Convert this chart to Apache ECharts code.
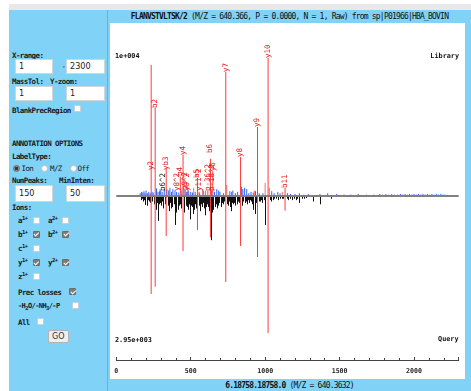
<!DOCTYPE html>
<html><head><meta charset="utf-8">
<script src="https://cdn.jsdelivr.net/npm/echarts@6/dist/echarts.min.js"></script>
<style>
html,body{margin:0;padding:0;width:471px;height:391px;overflow:hidden;background:#fff;}
#topband{position:absolute;left:9px;top:4px;width:462px;height:6px;background:#e8e8e8;}
#blue{position:absolute;left:9px;top:10px;width:462px;height:381px;background:#80d2f7;}
#sep{position:absolute;left:107px;top:10px;width:1px;height:381px;background:#5db6df;}
#chart{position:absolute;left:110px;top:23px;width:355px;height:356px;background:#fff;}
.t{position:absolute;font-family:'DejaVu Sans Mono',monospace;font-weight:bold;font-size:7.5px;letter-spacing:-0.6px;line-height:9px;height:9px;color:#1a1a1a;white-space:nowrap;}
.t sup,.t sub{font-size:5.5px;line-height:0;}
.t sup{vertical-align:3px;} .t sub{vertical-align:-1.5px;}
.in{position:absolute;background:#fff;border:1px solid #cfd6da;box-sizing:border-box;height:15px;font-family:'Liberation Sans Narrow','DejaVu Sans Condensed','Liberation Sans',sans-serif;font-size:9px;line-height:13px;padding-left:3px;color:#222;}
.cb{position:absolute;width:7px;height:7px;background:#fff;border:1px solid #c9cfd2;box-sizing:border-box;border-radius:1px;}
.cb.on{background:#7c7c7c;border-color:#6c6c6c;}
.cb.on::after{content:'';position:absolute;left:1.6px;top:-0.2px;width:1.6px;height:3.6px;border:solid #fff;border-width:0 1px 1px 0;transform:rotate(45deg);}
.rd{position:absolute;width:7px;height:7px;border-radius:50%;background:#fff;border:1px solid #b9c2c7;box-sizing:border-box;}
.rd.on{background:radial-gradient(circle,#3a3a3a 0 45%,#8a8a8a 55% 100%);border-color:#6a6a6a;}
#title{position:absolute;left:108px;top:10px;width:363px;height:13px;line-height:13px;text-align:center;font-family:'DejaVu Sans Mono',monospace;font-size:8px;letter-spacing:-0.8px;color:#111;white-space:nowrap;}
#foot{position:absolute;left:108px;top:380px;width:363px;height:12px;line-height:12px;text-align:center;font-family:'DejaVu Sans Mono',monospace;font-size:8px;letter-spacing:-0.8px;color:#111;white-space:nowrap;}
#go{position:absolute;left:48px;top:329.5px;width:20.5px;height:13.5px;background:#efefef;border:1px solid #b3b3b3;box-sizing:border-box;border-radius:2px;font-family:'DejaVu Sans',sans-serif;font-size:8px;line-height:11.5px;text-align:center;color:#333;}
</style></head>
<body>
<div id="topband"></div>
<div id="blue"></div>
<div id="sep"></div>
<div id="title"><b>FLANVSTVLTSK/2</b> (M/Z = 640.366, P = 0.0000, N = 1, Raw) from sp|P01966|HBA_BOVIN</div>
<div id="foot"><b>6.18758.18758.0</b> (M/Z = 640.3632)</div>

<div class="t" style="left:12px;top:50.5px">X-range:</div>
<div class="in" style="left:15px;top:59px;width:38px">1</div>
<div class="t" style="left:61.5px;top:61.5px;font-weight:normal">-</div>
<div class="in" style="left:66px;top:59px;width:39px">2300</div>
<div class="t" style="left:12px;top:77.2px">MassTol:</div>
<div class="t" style="left:50px;top:77.2px">Y-zoom:</div>
<div class="in" style="left:15px;top:86px;width:38px">1</div>
<div class="in" style="left:66px;top:86px;width:39px">1</div>
<div class="t" style="left:12px;top:106.2px">BlankPrecRegion</div>
<div class="cb" style="left:73.5px;top:105px"></div>
<div class="t" style="left:12px;top:139.2px">ANNOTATION OPTIONS</div>
<div class="t" style="left:12px;top:152.2px">LabelType:</div>
<div class="rd on" style="left:12.5px;top:165px"></div>
<div class="t" style="left:21.5px;top:164px;font-weight:normal">Ion</div>
<div class="rd" style="left:41px;top:165px"></div>
<div class="t" style="left:50px;top:164px;font-weight:normal">M/Z</div>
<div class="rd" style="left:69.5px;top:165px"></div>
<div class="t" style="left:77.5px;top:164px;font-weight:normal">Off</div>
<div class="t" style="left:12px;top:175.5px">NumPeaks:</div>
<div class="t" style="left:59px;top:175.5px">MinInten:</div>
<div class="in" style="left:15px;top:185px;width:38px;height:16.5px;line-height:14.5px">150</div>
<div class="in" style="left:66px;top:185px;width:39px;height:16.5px;line-height:14.5px">50</div>
<div class="t" style="left:12px;top:202.8px">Ions:</div>

<div class="t" style="left:18px;top:215.5px">a<sup>1+</sup></div>
<div class="cb" style="left:32.5px;top:216.5px"></div>
<div class="t" style="left:48px;top:215.5px">a<sup>2+</sup></div>
<div class="cb" style="left:62px;top:216.5px"></div>

<div class="t" style="left:18px;top:229.5px">b<sup>1+</sup></div>
<div class="cb on" style="left:32.5px;top:230.5px"></div>
<div class="t" style="left:48px;top:229.5px">b<sup>2+</sup></div>
<div class="cb on" style="left:62px;top:230.5px"></div>

<div class="t" style="left:18px;top:243.8px">c<sup>1+</sup></div>
<div class="cb" style="left:32.5px;top:244.8px"></div>

<div class="t" style="left:18px;top:257.8px">y<sup>1+</sup></div>
<div class="cb on" style="left:32.5px;top:258.8px"></div>
<div class="t" style="left:48px;top:257.8px">y<sup>2+</sup></div>
<div class="cb on" style="left:62px;top:258.8px"></div>

<div class="t" style="left:18px;top:272.2px">z<sup>1+</sup></div>
<div class="cb" style="left:32.5px;top:273.2px"></div>

<div class="t" style="left:18px;top:287.5px">Prec losses</div>
<div class="cb on" style="left:69px;top:288px"></div>
<div class="t" style="left:18px;top:301.5px;font-size:7px">-H<sub>2</sub>O/-NH<sub>3</sub>/-P</div>
<div class="cb" style="left:72px;top:302px"></div>
<div class="t" style="left:18px;top:318px">All</div>
<div class="cb" style="left:36.5px;top:317.5px"></div>
<div id="go">GO</div>

<div id="chart"></div>
<script>
// ---- axis ----
const xMin = 0, xMax = 2300, xTickStep = 500;
const libScaleLabel = '1e+004';
const queryScaleLabel = '2.95e+003';

// ---- library (top) : annotated peaks (red), relative intensity % of 1e+004 ----
const libAnnMz  = [234.14, 261.16, 335.19, 430, 448.28, 463, 477, 545.31, 556, 615, 632.34, 640, 648.4, 735.42, 834.50, 948.54, 1019.58, 1133.62];
const libAnnInt = [95,     64,     20,     14,  30,     4,   3,   13,     3,   4,   27,     4,   18,    90,     28.3,   50,     100,     5.8];

// ---- library : other matched (pale red, unlabeled) ----
const libMatchMz  = [480, 520, 580, 600, 742, 760, 927, 1000, 1028, 1115];
const libMatchInt = [8,   6,   5,   4,   8,   3,   4,   9.4,  6,    3];

// ---- library : unannotated peaks (blue) ----
const libOtherMz  = [160,170,178,186,193,200,210,218,228,240,248,270,280,290,298,308,322,340,352,360,371,380,394,405,420,440,455,470,486,500,512,530,560,584,598,660,675,688,696,720,763,775,783,800,815,842,850,862,876,890,905,920,935,960,985,1044,1060,1085,1100,1150,1170,1200,1230,1260,1290,1368,1420,1480,1530,1575,1625,1680,1730,1770,1790,1810,1830,1850,1870,1890,1910,1925,1940,1955,1970,1985,2000,2015,2030,2045,2060,2075,2090,2105,2120,2135,2150,2165,2180,2195,2208];
const libOtherInt = [2,3,2.5,3.5,2,4,2,3,2,3,2.5,5.5,3,3.5,4,3,5,5,4,6,3,5,4,3,2.5,4,5,3,4,3,2.5,3,2,4,3,3,5,4,3,2,3.5,3,4,2,3,6.7,5,6,5,2,3,2.5,3.5,2,2,3.5,2,3,2,2,1.5,1.5,2,1,1.5,1.5,2,1.5,1,1,1.5,1,1,1.5,1,1.5,1,1.5,1,1,1.5,1,1.5,1,1.5,1,1.5,1,1.5,1,1.5,1,1.5,1,1.5,1,1.5,1,1.5,1,1];

// ---- query (bottom) : matched peaks (red), relative intensity % of 2.95e+003 ----
const qAnnMz  = [234.14, 261.16, 335.19, 448.28, 545.31, 632.34, 735.42, 834.50, 948.54, 1019.58, 1133.62];
const qAnnInt = [71,     65.7,   29,     39.9,   24.6,   30,     62.3,   36.2,   44.2,   99.3,    10.6];

// ---- query : other peaks (black) ----
const qOtherMz  = [165,172,180,188,196,204,212,220,229,243,250,265,272,278,286,294,300,305,311,316,324,330,345,352,361,368,376,385,394,402,412,420,428,436,457,465,473,481,488,495,502,510,517,524,532,538,556,562,569,576,583,590,596,603,608,614,620,627,636,644,652,660,668,676,685,693,700,708,716,722,742,750,757,764,771,778,786,793,800,808,814,820,827,843,853,862,869,876,884,890,898,905,912,920,932,940,958,965,972,981,990,999,1030,1039,1050,1061,1075,1088,1100,1111,1122,1144,1155,1167,1178,1192,1205,1216,1229,1250,1262,1275,1319,1366,1370,1440];
const qOtherInt = [3,2,4,3,6.5,7,3,4,5,4,6,10,5,18,6,5,7,4,9,8,6,4,7,11,5,9,8,6,21,12,10,7,6,9,12,7,8,10,6,17,7,8,13,10,6,9,7,11,6,8,5,9,14,8,6,8,11,9,32,12,10,8,6,9,7,5,8,5,6,4,6,7,4,8,11,5,6,5,7,4,6,4,5,7,4,5,4,6,3,5,3,4,6,10,13,5,4,4,3,5,3,21,3,4,3,2,2,3,2,2,2,2,3,2,3,2,3,2,5,2,2,1.5,4,6,5,2];

// ---- peak labels (library side) ----
const labelText = ['y2','b2','yb3','y8^2','b4','y4','b9^2','y9^2','b5','y11^2','p-36^2','b6','p-18^2','y6','y7','y8','y9','y10','b11'];
const labelMz   = [234.14,261.16,335.19,408,430,448.28,463,477,542,556,615,630,640,650,735.42,834.50,948.54,1019.58,1133.62];
const labelPos  = [18.8,63.8,18.8,3.6,14.5,29.7,4.3,3.6,13,3.6,3.6,31.2,3.6,18,89.9,28.3,50,100,5.8];
const darkLabelText = ['b6^2'];
const darkLabelMz   = [316.67];
const darkLabelPos  = [3.6];

const libFullScale = 100;

function zip(a, b) { return a.map((v, i) => [v, b[i]]); }
function stick(color, sign, crisp) {
  return function (params, api) {
    const x = api.value(0), v = api.value(1);
    const p0 = api.coord([x, 0]);
    const p1 = api.coord([x, sign * v]);
    const px = crisp ? Math.round(p0[0]) + 0.5 : p0[0];
    return { type: 'line', shape: { x1: px, y1: p0[1], x2: px, y2: p1[1] },
             style: { stroke: color, lineWidth: 1 } };
  };
}
function labels(texts, color) {
  return function (params, api) {
    const p = api.coord([api.value(0), api.value(1)]);
    return { type: 'text', x: p[0], y: p[1], rotation: Math.PI / 2,
      style: { text: texts[params.dataIndex], fill: color,
        font: '7.5px "DejaVu Sans Mono", monospace',
        textAlign: 'left', textVerticalAlign: 'middle', align: 'left', verticalAlign: 'middle' } };
  };
}
const enc = { x: 0, y: 1 };
const chart = echarts.init(document.getElementById('chart'), null, { renderer: 'canvas' });
const txtFont = 'bold 6.8px "DejaVu Sans Mono", monospace';
chart.setOption({
  animation: false,
  backgroundColor: '#fff',
  grid: { left: 6.3, right: 6.3, top: 35, bottom: 19, containLabel: false },
  xAxis: {
    type: 'value', min: xMin, max: xMax, interval: xTickStep,
    axisLine: { onZero: false, lineStyle: { color: '#444', width: 1 } },
    axisTick: { inside: true, length: 3, lineStyle: { color: '#444' } },
    minorTick: { show: true, splitNumber: 5, length: 2, lineStyle: { color: '#444' } },
    splitLine: { show: false },
    axisLabel: { fontFamily: '"DejaVu Sans Mono", monospace', fontWeight: 'bold', fontSize: 6.6, color: '#222', margin: 8, showMaxLabel: false,
      formatter: function (v) { return String(v); } }
  },
  yAxis: { type: 'value', min: -118.84, max: libFullScale, show: false },
  graphic: [
    { type: 'text', x: 5, y: 33, style: { text: libScaleLabel, fill: '#111', textAlign: 'left', textVerticalAlign: 'middle', font: txtFont } },
    { type: 'text', x: 349, y: 33, style: { text: 'Library', fill: '#111', textAlign: 'right', textVerticalAlign: 'middle', font: txtFont } },
    { type: 'text', x: 5, y: 317, style: { text: queryScaleLabel, fill: '#111', textAlign: 'left', textVerticalAlign: 'middle', font: txtFont } },
    { type: 'text', x: 348.5, y: 316.5, style: { text: 'Query', fill: '#111', textAlign: 'right', textVerticalAlign: 'middle', font: txtFont } }
  ],
  series: [
    { type: 'custom', clip: false, encode: enc, data: zip(qOtherMz, qOtherInt), renderItem: stick('#111', -1, true) },
    { type: 'custom', clip: false, encode: enc, data: zip(qAnnMz, qAnnInt), renderItem: stick('#ff3b3b', -1, false) },
    { type: 'custom', clip: false, encode: enc, data: zip(libOtherMz, libOtherInt), renderItem: stick('#2f62ff', 1, false) },
    { type: 'custom', clip: false, encode: enc, data: zip(libMatchMz, libMatchInt), renderItem: stick('#ff6a6a', 1, false) },
    { type: 'custom', clip: false, encode: enc, data: zip(libAnnMz, libAnnInt), renderItem: stick('#ff3b3b', 1, false) },
    { type: 'custom', clip: false, encode: enc, data: [[xMin, 0]],
      renderItem: function (params, api) {
        const a = api.coord([xMin, 0]), b = api.coord([xMax, 0]);
        return { type: 'line', shape: { x1: a[0], y1: a[1], x2: b[0], y2: b[1] }, style: { stroke: '#808080', lineWidth: 2 } };
      } },
    { type: 'custom', clip: false, encode: enc, data: zip(labelMz, labelPos), renderItem: labels(labelText, '#e81414') },
    { type: 'custom', clip: false, encode: enc, data: zip(darkLabelMz, darkLabelPos), renderItem: labels(darkLabelText, '#111') }
  ]
});
</script>
</body></html>
